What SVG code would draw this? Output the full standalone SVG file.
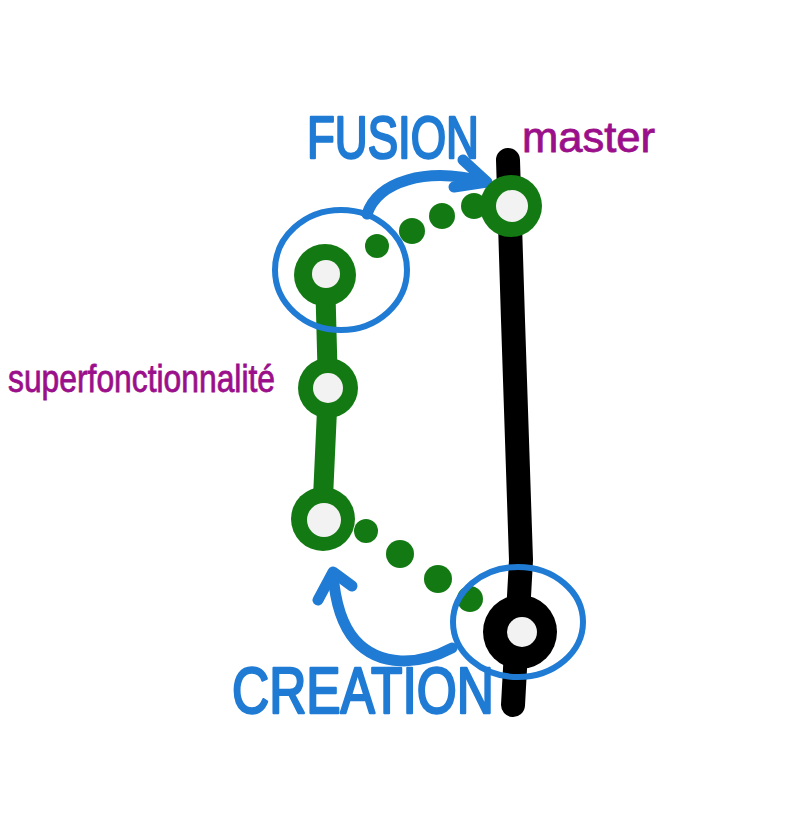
<svg xmlns="http://www.w3.org/2000/svg" width="800" height="818" viewBox="0 0 800 818">
<style>
.g{fill:#137a13}
.hole{fill:#f2f2f2}
.blue{fill:none;stroke:#1f7bd3;stroke-width:11;stroke-linecap:round;stroke-linejoin:round}
.ring{fill:none;stroke:#1f7bd3;stroke-width:6}
.dot{fill:#137a13}
.lbl{font-family:"Liberation Sans","DejaVu Sans",sans-serif}
.bt{fill:#1f7bd3;stroke:#1f7bd3;stroke-width:2.5;stroke-linejoin:round}
.pt{fill:#9b0f8a;stroke:#9b0f8a;stroke-width:0.8}
</style>
<rect width="800" height="818" fill="#ffffff"/>
<g id="connectors">
  <polyline points="508,160 513,320 521,560 513,705" fill="none" stroke="#000" stroke-width="24" stroke-linecap="round" stroke-linejoin="round"/>
  <polyline points="325,275 328,388 322,520" fill="none" stroke="#137a13" stroke-width="20" stroke-linecap="round"/>
  <circle class="dot" cx="377" cy="246" r="12"/>
  <circle class="dot" cx="412" cy="231" r="13"/>
  <circle class="dot" cx="442" cy="216" r="13"/>
  <circle class="dot" cx="474" cy="206" r="13"/>
  <circle class="dot" cx="366" cy="531" r="12"/>
  <circle class="dot" cx="400" cy="554" r="14"/>
  <circle class="dot" cx="438" cy="579" r="14"/>
  <circle class="dot" cx="470" cy="599" r="13"/>
  <path class="blue" d="M367,214 C378,182 425,166 485,182"/>
  <path class="blue" d="M463,160 L487,182 L454,187"/>
  <path class="blue" d="M452,648 C420,665 380,668 355,640 C342,625 335,600 333,574"/>
  <path class="blue" d="M318,600 L333,572 L352,586"/>
</g>
<g id="master-commit">
  <circle class="g" cx="511" cy="206" r="31"/>
  <circle class="hole" cx="512" cy="206" r="16"/>
</g>
<g id="commit-1">
  <circle class="g" cx="325" cy="275" r="31"/>
  <circle class="hole" cx="326" cy="274" r="14"/>
</g>
<g id="commit-2">
  <circle class="g" cx="328" cy="388" r="30"/>
  <circle class="hole" cx="328" cy="388" r="15"/>
</g>
<g id="commit-3">
  <circle class="g" cx="323" cy="519" r="32"/>
  <circle class="hole" cx="324" cy="520" r="17"/>
</g>
<g id="base-commit">
  <circle cx="520" cy="632" r="37" fill="#000"/>
  <circle class="hole" cx="522" cy="632" r="15"/>
</g>
<g id="fusion-highlight">
  <ellipse class="ring" cx="341" cy="270" rx="66" ry="60"/>
</g>
<g id="creation-highlight">
  <ellipse class="ring" cx="518" cy="622" rx="65" ry="55"/>
</g>
<g id="labels">
  <text class="lbl bt" x="307" y="158" font-size="60" textLength="172" lengthAdjust="spacingAndGlyphs">FUSION</text>
  <text class="lbl pt" x="522" y="152" font-size="42" textLength="133" lengthAdjust="spacingAndGlyphs">master</text>
  <text class="lbl pt" x="8" y="392" font-size="39" textLength="267" lengthAdjust="spacingAndGlyphs">superfonctionnalité</text>
  <text class="lbl bt" x="232" y="713" font-size="64" textLength="262" lengthAdjust="spacingAndGlyphs">CREATION</text>
</g>
</svg>
